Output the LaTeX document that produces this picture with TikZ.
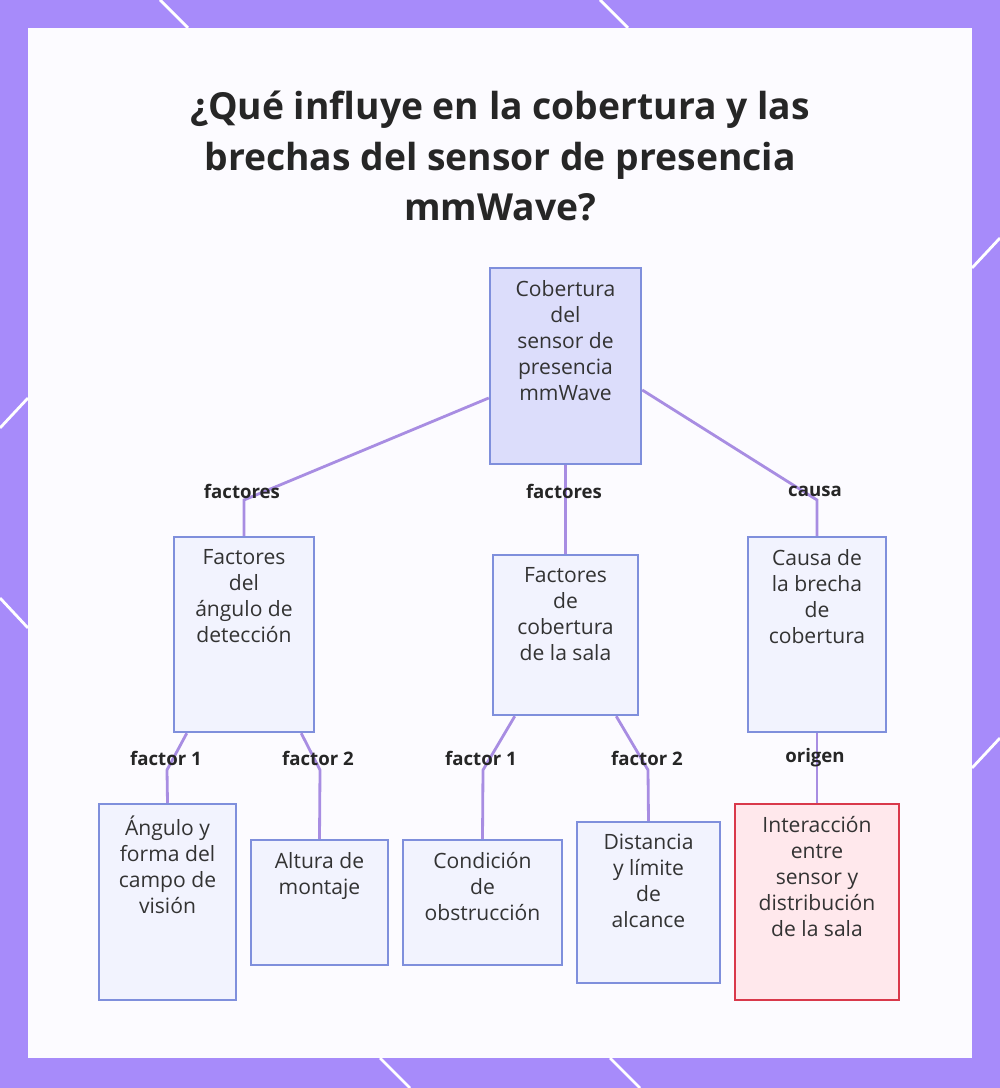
\documentclass[tikz,border=0pt]{standalone}
\usepackage{fontspec}
\setmainfont{Open Sans}
\usetikzlibrary{positioning}
\definecolor{frame}{HTML}{A78BFA}
\definecolor{edge}{HTML}{A88DE2}
\definecolor{boxline}{HTML}{7F8FDC}
\definecolor{rootfill}{HTML}{DCDDFB}
\definecolor{boxfill}{HTML}{F2F3FE}
\definecolor{redline}{HTML}{D9394B}
\definecolor{redfill}{HTML}{FFE8EC}
% top aligned box text: width, height, text
\newcommand{\toptext}[3]{\parbox[c][#2][t]{#1}{\centering\vspace*{1.2mm}#3}}
\tikzset{
  box/.style={draw=boxline, fill=boxfill, line width=0.7pt, align=center,
    font=\fontsize{6.0pt}{7.4pt}\selectfont, text=black!80, inner sep=0pt},
  rootbox/.style={box, fill=rootfill},
  alertbox/.style={box, draw=redline, fill=redfill},
  link/.style={draw=edge, line width=0.8pt},
  tag/.style={font=\bfseries\fontsize{5.3pt}{6.5pt}\selectfont, text=black!85}
}
\begin{document}
\begin{tikzpicture}
\useasboundingbox (0,0) rectangle (10,10.88);
\fill[frame] (0,0) rectangle (10,10.88);
\fill[white!97!frame] (0.28,0.30) rectangle (9.72,10.60);
% corner decorations
\draw[white, line width=0.8pt] (1.6,10.88) -- (1.88,10.60) (6.0,10.88) -- (6.28,10.60) (9.72,8.2) -- (10,8.5) (0,6.6) -- (0.28,6.9) (0,4.9) -- (0.28,4.6) (9.72,3.2) -- (10,3.5) (4.1,0) -- (3.8,0.30) (6.4,0) -- (6.1,0.30);
% title
\node[font=\bfseries\fontsize{10.6pt}{14.3pt}\selectfont, align=center, text=black!85] (title) at (5,9.32)
  {¿Qué influye en la cobertura y las\\brechas del sensor de presencia\\mmWave?};
% nodes
\node[rootbox] (root) at (5.655,7.22) {\toptext{1.51cm}{1.96cm}{Cobertura\\del\\sensor de\\presencia\\mmWave}};
\node[box] (angle) at (2.44,4.535) {\toptext{1.40cm}{1.95cm}{Factores\\del\\ángulo de\\detección}};
\node[box] (room) at (5.655,4.53) {\toptext{1.45cm}{1.60cm}{Factores\\de\\cobertura\\de la sala}};
\node[box] (gap) at (8.17,4.535) {\toptext{1.38cm}{1.95cm}{Causa de\\la brecha\\de\\cobertura}};
\node[box] (fov) at (1.675,1.86) {\toptext{1.37cm}{1.96cm}{Ángulo y\\forma del\\campo de\\visión}};
\node[box] (height) at (3.195,1.855) {\toptext{1.37cm}{1.25cm}{Altura de\\montaje}};
\node[box] (block) at (4.825,1.855) {\toptext{1.59cm}{1.25cm}{Condición\\de\\obstrucción}};
\node[box] (range) at (6.485,1.855) {\toptext{1.43cm}{1.61cm}{Distancia\\y límite\\de\\alcance}};
\node[alertbox] (layout) at (8.17,1.86) {\toptext{1.64cm}{1.96cm}{Interacción\\entre\\sensor y\\distribución\\de la sala}};
% bends
\coordinate (kA) at (2.44,5.88);
\coordinate (kC) at (8.17,5.88);
\coordinate (k1) at (1.67,3.18);
\coordinate (k2) at (3.20,3.18);
\coordinate (k3) at (4.83,3.18);
\coordinate (k4) at (6.48,3.18);
% links
\draw[link] ([yshift=-3.2mm]root.west) -- (kA) -- (angle.north);
\draw[link] (root.south) -- (room.north);
\draw[link] ([yshift=-2.4mm]root.east) -- (kC) -- (gap.north);
\draw[link] ([xshift=1.4mm]angle.south west) -- (k1) -- (fov.north);
\draw[link] ([xshift=-1.4mm]angle.south east) -- (k2) -- (height.north);
\draw[link] ([xshift=2.3mm]room.south west) -- (k3) -- (block.north);
\draw[link] ([xshift=-2.3mm]room.south east) -- (k4) -- (range.north);
\draw[link] (gap.south) -- (layout.north);
% labels
\node[tag] (t1) at (2.42,5.97) {factores};
\node[tag] (t2) at (5.64,5.97) {factores};
\node[tag] (t3) at (8.15,5.97) {causa};
\node[tag] (t4) at (1.66,3.30) {factor 1};
\node[tag] (t5) at (3.18,3.30) {factor 2};
\node[tag] (t6) at (4.81,3.30) {factor 1};
\node[tag] (t7) at (6.47,3.30) {factor 2};
\node[tag] (t8) at (8.15,3.30) {origen};
\end{tikzpicture}
\end{document}
